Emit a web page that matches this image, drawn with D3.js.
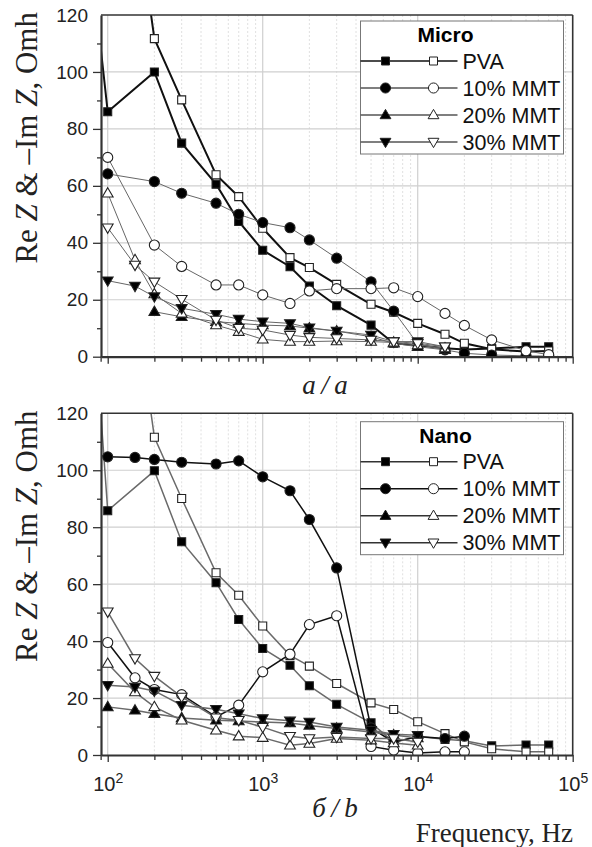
<!DOCTYPE html>
<html>
<head>
<meta charset="utf-8">
<script src="https://cdn.jsdelivr.net/npm/d3@7"></script>
<style>
  body { margin: 0; background: #fff; }
  svg { display: block; }
</style>
</head>
<body>
<div class="chart"></div>
<script>
// frequencies (Hz), shared by all series; null = no point
const freq = [80, 100, 150, 200, 300, 500, 700, 1000, 1500, 2000, 3000, 5000, 7000, 10000, 15000, 20000, 30000, 50000, 70000];

// Micro panel
const pvaReMicro   = [134, 86, null, 100, 75, 60.6, 47.5, 37.4, 31.6, 24.8, 17.9, 11.1, 4.7, 4, 3, 2.5, 2.9, 3.5, 3.5];
const pvaImMicro   = [null, 229, null, 111.7, 90.2, 63.9, 56.2, 45.1, 34.8, 31.3, 25.4, 18.4, 15.6, 11.7, 7.9, 4.7, 2.6, 1.8, 2];
const mmt10ReMicro = [null, 64.2, null, 61.5, 57.4, 53.9, 50, 47.1, 45.3, 41, 34.6, 26.3, 16, 4.5, 2.4, 1.2, 0.6, 0.3, 0.2];
const mmt10ImMicro = [null, 70, null, 39.2, 31.7, 25.2, 25.2, 21.7, 18.7, 23.1, 23.9, 23.9, 24.2, 21.1, 15.2, 11, 5.9, 2.1, 0.7];
const mmt20ReMicro = [null, null, null, 15.8, 14, 12.3, 11.7, 11.1, 10.8, 10, 9, 7, 4.7, 3.5, 2.4, null, null, null, null];
const mmt20ImMicro = [null, 57.4, 34, 22, 15.2, 11.1, 8.8, 6.1, 5.3, 5.3, 5.5, 5.3, 5, 4.1, 3, null, null, null, null];
const mmt30ReMicro = [null, 26.7, 24.8, 21.1, 17, 14.9, 13.2, 12.3, 11.7, 10.2, 9, 7.6, 5.3, 5.3, 3.5, null, null, null, null];
const mmt30ImMicro = [null, 45.3, 32.2, 26.3, 20.2, 12.9, 10, 9.4, 7.6, 6.8, 6.4, 5.9, 5.3, 4.7, 3.5, null, null, null, null];

// Nano panel
const pvaReNano   = [160, 85.8, null, 99.8, 74.9, 60.5, 47.6, 37.4, 31.5, 24.3, 17.8, 11.3, 4.5, 6.5, 5.5, 5, 3.2, 3.5, 3.5];
const pvaImNano   = [null, 229, null, 111.6, 90.1, 64, 56.1, 45.3, 35, 31.2, 25.1, 18.3, 16, 11.7, 7.5, 4.6, 2.2, 1.1, 1.1];
const mmt10ReNano = [105.5, 104.7, 104.5, 103.8, 102.8, 102.2, 103.3, 97.7, 92.8, 82.7, 65.7, 9.5, 4.5, 6.5, 5.8, 6.6, null, null, null];
const mmt10ImNano = [null, 39.5, 27.1, 23, 21.2, 13.4, 17.5, 29.2, 35.4, 45.8, 48.9, 3, 1.7, 0.7, 1.1, 1.1, null, null, null];
const mmt20ReNano = [null, 16.9, 15.7, 14.5, 13, 12.2, 11.9, 11.6, 11.2, 10.4, 9.3, 8.1, 7, 6, null, null, null, null, null];
const mmt20ImNano = [null, 32.1, 22.1, 16.9, 12.2, 8.7, 6.6, 6.1, 3.4, 4, 5.8, 5.2, 4.2, 3.4, null, null, null, null, null];
const mmt30ReNano = [null, 24.5, 23.9, 22.5, 17.5, 16.1, 14.5, 12.8, 12, 11.6, 9.8, 8.7, 7.3, 6.9, null, null, null, null, null];
const mmt30ImNano = [null, 50.3, 33.9, 27.7, 20.4, 13.1, 12.2, 9.8, 6.6, 5.8, 6.3, 5.8, 5.8, 4.6, null, null, null, null, null];

const seriesNames = ["PVA", "10% MMT", "20% MMT", "30% MMT"];
const shapes = ["square", "circle", "up", "down"];
const yTicks = [0, 20, 40, 60, 80, 100, 120];

const W = 592, H = 847;
const margin = {top: 15, left: 101, right: 19.3};
const plotW = W - margin.left - margin.right;
const plotH = 341.7;

const svg = d3.select(".chart").append("svg")
    .attr("width", W)
    .attr("height", H);

const x = d3.scaleLog().domain([90.5, 1e5]).range([0, plotW]);
const y = d3.scaleLinear().domain([0, 120]).range([plotH, 0]);

function markerPath(shape) {
    if (shape === "square") return "M-4,-4h8v8h-8z";
    if (shape === "circle") return d3.symbol(d3.symbolCircle, 80)();
    if (shape === "up") return "M0,-5.6L5.4,3.7L-5.4,3.7Z";
    return "M0,5.6L5.4,-3.7L-5.4,-3.7Z";
}

function panel(top, name, rows, lineStyles, legendTop) {
    const g = svg.append("g").attr("transform", "translate(" + margin.left + "," + top + ")");
    const clipId = "clip-" + name;
    g.append("clipPath").attr("id", clipId)
        .append("rect").attr("width", plotW).attr("height", plotH);

    // grid
    const minor = [];
    [100, 1000, 10000].forEach(d => { for (let k = 2; k <= 9; k++) minor.push(d * k); });
    const grid = g.append("g").attr("clip-path", "url(#" + clipId + ")");
    grid.selectAll(".mx").data(minor).enter().append("line")
        .attr("x1", d => x(d)).attr("x2", d => x(d))
        .attr("y1", 0).attr("y2", plotH)
        .attr("stroke", "#d8d8d8").attr("stroke-width", 0.8).attr("stroke-dasharray", "2,2");
    grid.selectAll(".Mx").data([100, 1000, 10000]).enter().append("line")
        .attr("x1", d => x(d)).attr("x2", d => x(d))
        .attr("y1", 0).attr("y2", plotH)
        .attr("stroke", "#cfcfcf").attr("stroke-width", 1.2);
    grid.selectAll(".My").data([20, 40, 60, 80, 100]).enter().append("line")
        .attr("x1", 0).attr("x2", plotW)
        .attr("y1", d => y(d)).attr("y2", d => y(d))
        .attr("stroke", "#cfcfcf").attr("stroke-width", 1.2);

    // data
    const plot = g.append("g").attr("clip-path", "url(#" + clipId + ")");
    const line = d3.line()
        .defined(d => d.v !== null)
        .x(d => x(d.f)).y(d => y(d.v));
    rows.forEach((r, i) => {
        const st = lineStyles[i];
        [r.re, r.im].forEach((vals, j) => {
            const pts = freq.map((f, k) => ({f: f, v: vals[k]}));
            const valid = pts.filter(p => p.v !== null);
            plot.append("path").datum(valid)
                .attr("d", line)
                .attr("fill", "none")
                .attr("stroke", st.color)
                .attr("stroke-width", st.width);
            plot.selectAll(null).data(valid).enter().append("path")
                .attr("d", markerPath(shapes[i]))
                .attr("transform", d => "translate(" + x(d.f) + "," + y(d.v) + ")")
                .attr("fill", j === 0 ? "#000" : "#fff")
                .attr("stroke", "#222")
                .attr("stroke-width", 1.1);
        });
    });

    // frame
    g.append("line").attr("x1", 0).attr("x2", plotW).attr("y1", 0).attr("y2", 0)
        .attr("stroke", "#333").attr("stroke-width", 1.6);
    g.append("line").attr("x1", plotW).attr("x2", plotW).attr("y1", 0).attr("y2", plotH)
        .attr("stroke", "#333").attr("stroke-width", 1.6);

    // axes
    const yAxis = g.append("g").attr("class", "axis y-axis")
        .call(d3.axisLeft(y).tickValues(yTicks).tickSize(8).tickPadding(5).tickSizeOuter(0));
    yAxis.selectAll(".tick")
        .filter(d => d === 120).select("line").remove();
    g.append("g").call(d3.axisLeft(y).tickValues([10, 30, 50, 70, 90, 110]).tickSize(4).tickFormat(""))
        .call(a => a.select(".domain").remove());

    const minorTicks = [90].concat(minor).concat([20000, 30000, 40000, 50000, 60000, 70000, 80000, 90000]
        .filter(v => minor.indexOf(v) < 0));
    const xAxis = g.append("g").attr("class", "axis x-axis")
        .attr("transform", "translate(0," + plotH + ")")
        .call(d3.axisBottom(x).tickValues([100, 1000, 10000, 100000]).tickSize(7).tickPadding(9).tickSizeOuter(0).tickFormat(""));
    g.append("g").attr("transform", "translate(0," + plotH + ")")
        .call(d3.axisBottom(x).tickValues(minorTicks).tickSize(5).tickFormat(""))
        .call(a => a.select(".domain").remove());

    g.selectAll(".domain").attr("stroke", "#333").attr("stroke-width", 2.2);
    g.selectAll(".tick line").attr("stroke", "#333").attr("stroke-width", 1.3);
    yAxis.selectAll("text")
        .attr("font-family", "'Liberation Sans', Arial, sans-serif")
        .attr("font-size", 19).attr("fill", "#222");

    // legend
    const lg = svg.append("g").attr("transform", "translate(" + (margin.left + 259.5) + "," + legendTop + ")");
    lg.append("rect").attr("width", 203).attr("height", 133)
        .attr("fill", "#fff").attr("stroke", "#777").attr("stroke-width", 1);
    lg.append("text").attr("x", 85).attr("y", 21)
        .attr("text-anchor", "middle")
        .attr("font-family", "'Liberation Sans', Arial, sans-serif")
        .attr("font-weight", "bold").attr("font-size", 21)
        .text(name);
    seriesNames.forEach((s, i) => {
        const ry = 40 + i * 27;
        const st = lineStyles[i];
        lg.append("line").attr("x1", 0).attr("x2", 97).attr("y1", ry).attr("y2", ry)
            .attr("stroke", st.legend).attr("stroke-width", 1.4);
        lg.append("path").attr("d", markerPath(shapes[i]))
            .attr("transform", "translate(25," + ry + ")")
            .attr("fill", "#000").attr("stroke", "#222");
        lg.append("path").attr("d", markerPath(shapes[i]))
            .attr("transform", "translate(73," + ry + ")")
            .attr("fill", "#fff").attr("stroke", "#222");
        lg.append("text").attr("x", 102).attr("y", ry + 7.5)
            .attr("font-family", "'Liberation Sans', Arial, sans-serif")
            .attr("font-size", 21.5).attr("fill", "#111")
            .text(s);
    });

    // y title
    const ty = svg.append("text")
        .attr("transform", "translate(37," + (top + plotH / 2 - 48) + ") rotate(-90)")
        .attr("text-anchor", "middle")
        .attr("font-family", "'Liberation Serif', 'Times New Roman', serif")
        .attr("font-size", 31).attr("fill", "#222");
    ty.append("tspan").text("Re ");
    ty.append("tspan").attr("font-style", "italic").text("Z");
    ty.append("tspan").text(" & \u2013Im ");
    ty.append("tspan").attr("font-style", "italic").text("Z");
    ty.append("tspan").text(", Omh");

    return xAxis;
}

const blackThick = {color: "#111", width: 2, legend: "#111"};
const grayThin = {color: "#666", width: 1, legend: "#555"};
const grayMid = {color: "#6a6a6a", width: 1.5, legend: "#333"};
const blackMid = {color: "#111", width: 1.5, legend: "#111"};

panel(margin.top, "Micro", [
    {re: pvaReMicro, im: pvaImMicro},
    {re: mmt10ReMicro, im: mmt10ImMicro},
    {re: mmt20ReMicro, im: mmt20ImMicro},
    {re: mmt30ReMicro, im: mmt30ImMicro}
], [blackThick, grayThin, grayThin, grayThin], 21);

const xAxisNano = panel(413.3, "Nano", [
    {re: pvaReNano, im: pvaImNano},
    {re: mmt10ReNano, im: mmt10ImNano},
    {re: mmt20ReNano, im: mmt20ImNano},
    {re: mmt30ReNano, im: mmt30ImNano}
], [grayMid, blackMid, grayMid, grayMid], 421.7);

// x tick labels 10^n on the bottom panel
xAxisNano.selectAll(".tick text").each(function(d) {
    const t = d3.select(this)
        .attr("font-family", "'Liberation Sans', Arial, sans-serif")
        .attr("font-size", 20).attr("fill", "#222").attr("dy", "1em");
    t.append("tspan").text("10");
    t.append("tspan").attr("font-size", 14).attr("dy", "-0.55em").text(Math.round(Math.log10(d)));
});

// panel captions
svg.append("text").attr("x", 325).attr("y", 394)
    .attr("text-anchor", "middle")
    .attr("font-family", "'Liberation Serif', 'Times New Roman', serif")
    .attr("font-style", "italic").attr("font-size", 27).attr("fill", "#222")
    .text("a\u2009/\u2009a");
svg.append("text").attr("x", 335).attr("y", 817)
    .attr("text-anchor", "middle")
    .attr("font-family", "'Liberation Serif', 'Times New Roman', serif")
    .attr("font-style", "italic").attr("font-size", 27).attr("fill", "#222")
    .text("\u0431\u2009/\u2009b");
svg.append("text").attr("x", 573).attr("y", 842)
    .attr("text-anchor", "end")
    .attr("font-family", "'Liberation Serif', 'Times New Roman', serif")
    .attr("font-size", 27).attr("fill", "#222")
    .text("Frequency, Hz");
</script>
</body>
</html>
